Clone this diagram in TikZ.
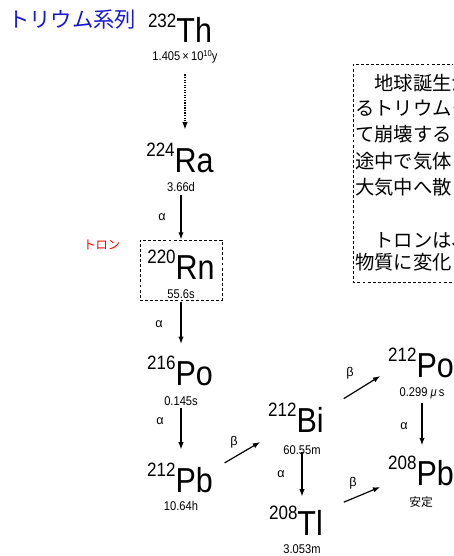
\documentclass[tikz,border=0pt]{standalone}
\usepackage{fontspec}
\setmainfont{Liberation Sans}
\newfontfamily\jpfont{Noto Sans CJK JP}
\newfontfamily\elfont[FakeStretch=0.88]{Liberation Sans}
\newfontfamily\hlfont[FakeStretch=0.88]{Liberation Sans}
\usetikzlibrary{arrows.meta}
\newcommand\nucl[2]{{\elfont\raisebox{11.5pt}{\fontsize{14.5}{16}\selectfont #1}\fontsize{26}{30}\selectfont #2}}
\definecolor{titleblue}{RGB}{25,25,210}
\begin{document}
\begin{tikzpicture}[x=0.75pt,y=-0.75pt,
  nuc/.style={inner sep=0pt,anchor=base},
  hl/.style={inner sep=1pt,font=\hlfont\fontsize{9.5}{11}\selectfont},
  lab/.style={inner sep=0pt,font=\fontsize{9.5}{11}\selectfont},
  arr/.style={-{Latex[length=5.5pt,width=4pt]},line width=0.9pt},
  dbox/.style={draw,line width=0.6pt,dash pattern=on 2.2pt off 1.6pt},
  boxtxt/.style={inner sep=0pt,anchor=base west,font=\jpfont\fontsize{14.5}{16}\selectfont}]
\useasboundingbox (0,0) rectangle (453,556);
\clip (0,0) rectangle (453,556);

% title
\node[inner sep=0pt,anchor=west,text=titleblue,font=\jpfont\fontsize{16}{18}\selectfont] (title) at (8,20) {トリウム系列};
\node[inner sep=0pt,anchor=west,text=red,font=\jpfont\fontsize{9.2}{11}\selectfont] (thoron) at (83,245) {トロン};

% nuclides
\node[nuc] (th) at (180,43) {\nucl{232}{Th}};
\node[nuc] (ra) at (180,172) {\nucl{224}{Ra}};
\node[dbox,minimum width=61.5pt,minimum height=45pt,inner sep=0pt] (rnbox) at (181,270) {};
\node[nuc] (rn) at (181,279) {\nucl{220}{Rn}};
\node[nuc] (po216) at (180,385) {\nucl{216}{Po}};
\node[nuc] (pb212) at (180,492) {\nucl{212}{Pb}};
\node[nuc] (bi) at (296,432) {\nucl{212}{Bi}};
\node[nuc] (tl) at (296,535) {\nucl{208}{Tl}};
\node[nuc] (po212) at (421,377) {\nucl{212}{Po}};
\node[nuc] (pb208) at (421,485) {\nucl{208}{Pb}};

% half-lives
\node[hl] (thhl) at (185,57) {1.405\,×\,10\raisebox{3.3pt}{\fontsize{6.5}{7}\selectfont 10}y};
\node[hl] (rahl) at (181,187) {3.66d};
\node[hl] (rnhl) at (181,294) {55.6s};
\node[hl] (po216hl) at (181,401) {0.145s};
\node[hl] (pb212hl) at (181,506) {10.64h};
\node[hl] (bihl) at (302,450) {60.55m};
\node[hl] (tlhl) at (302,549) {3.053m};
\node[hl] (po212hl) at (422,393) {0.299 \textit{μ}\,s};
\node[hl,font=\jpfont\fontsize{8.8}{10}\selectfont] (pb208hl) at (421,502) {安定};

% decay arrows
\draw[arr,densely dotted,shorten <=7pt,shorten >=10pt] (thhl.south) -- (thhl.south |- ra.north);
\draw[arr,shorten <=1pt] (rahl.south) -- (rahl.south |- rnbox.north);
\draw[arr,shorten <=1.5pt,shorten >=9pt] (rnbox.south) -- (rnbox.south |- po216.north);
\draw[arr,shorten <=0.5pt,shorten >=10pt] (po216hl.south) -- (po216hl.south |- pb212.north);
\draw[arr,shorten <=-3pt,shorten >=7pt] (bihl.south) -- (bihl.south |- tl.north);
\draw[arr,shorten <=2pt,shorten >=8pt] (po212hl.south) -- (po212hl.south |- pb208.north);
\draw[arr] ([shift={(8.6pt,0pt)}]pb212.north east) -- ([shift={(-5.8pt,-7.5pt)}]bi.base west);
\draw[arr] ([shift={(14.8pt,3.2pt)}]bi.north east) -- ([shift={(-5.7pt,0.75pt)}]po212.base west);
\draw[arr] ([shift={(15.5pt,2.8pt)}]tl.north east) -- ([shift={(-5.7pt,-1.5pt)}]pb208.base west);

% decay labels
\node[lab] (a1) at (162,217) {α};
\node[lab] (a2) at (159,324) {α};
\node[lab] (a3) at (160,421) {α};
\node[lab] (a4) at (281,474) {α};
\node[lab] (a5) at (404,426) {α};
\node[lab] (b1) at (234,442) {β};
\node[lab] (b2) at (350,373) {β};
\node[lab] (b3) at (353,483) {β};

% explanation box (cut off at the right edge, as in the reference)
\draw[line width=0.6pt,dash pattern=on 2.2pt off 1.6pt] (470,64) -- (353,64) -- (353,282) -- (470,282);
\node[boxtxt] (t1) at (355,91) {　地球誕生か};
\node[boxtxt] (t2) at (355,116) {るトリウム－};
\node[boxtxt] (t3) at (355,142) {て崩壊する};
\node[boxtxt] (t4) at (355,168) {途中で気体};
\node[boxtxt] (t5) at (355,194) {大気中へ散};
\node[boxtxt] (t6) at (355,247) {　トロンは、};
\node[boxtxt] (t7) at (355,269) {物質に変化};
\end{tikzpicture}
\end{document}
